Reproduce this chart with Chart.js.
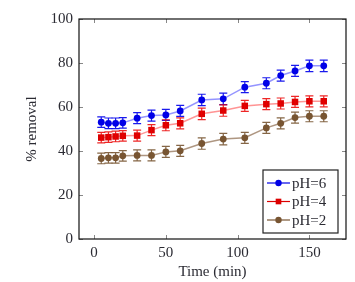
<!DOCTYPE html>
<html>
<head>
<meta charset="utf-8">
<script src="https://cdn.jsdelivr.net/npm/chart.js@4.4.1/dist/chart.umd.min.js"></script>
<style>
    html, body { margin: 0; padding: 0; background: #fff; }
    #wrap { width: 355px; height: 282px; }
</style>
</head>
<body>
<div id="wrap"><canvas id="removalChart"></canvas></div>
<script>
// Time points (min)
const times = [5, 10, 15, 20, 30, 40, 50, 60, 75, 90, 105, 120, 130, 140, 150, 160];

// % removal per pH
const ph6 = [53.1, 52.6, 52.6, 52.8, 54.9, 56.1, 56.4, 58.2, 63.2, 63.7, 69.0, 70.8, 74.3, 76.4, 78.7, 78.7];
const ph4 = [46.1, 46.3, 46.6, 46.9, 47.0, 49.5, 51.7, 52.6, 56.9, 58.4, 60.5, 61.3, 61.6, 62.3, 62.6, 62.6];
const ph2 = [36.6, 36.9, 36.9, 37.8, 38.0, 38.0, 39.6, 40.1, 43.4, 45.4, 46.0, 50.5, 52.6, 55.2, 55.8, 55.8];

// error bar half-widths
const ph6Err = [2.4, 2.4, 2.4, 2.4, 2.5, 2.5, 2.5, 2.5, 2.6, 2.6, 2.5, 2.5, 2.5, 2.5, 2.6, 2.6];
const ph4Err = [2.4, 2.4, 2.4, 2.4, 2.5, 2.5, 2.5, 2.5, 2.6, 2.6, 2.5, 2.5, 2.5, 2.5, 2.5, 2.5];
const ph2Err = [2.4, 2.4, 2.4, 2.4, 2.5, 2.5, 2.5, 2.5, 2.6, 2.6, 2.5, 2.5, 2.5, 2.5, 2.5, 2.5];

const xTicks = [0, 50, 100, 150];
const yTicks = [0, 20, 40, 60, 80, 100];

const FONT = "'Liberation Serif', 'DejaVu Serif', serif";
const TEXT = '#2b2b33';

function toPoints(ys) {
    return ys.map((y, i) => ({ x: times[i], y: y }));
}

// Draws vertical error bars with caps from each dataset's errors array
const errorBars = {
    id: 'errorBars',
    afterDatasetsDraw(chart) {
        const ctx = chart.ctx;
        const yScale = chart.scales.y;
        chart.data.datasets.forEach((ds, di) => {
            const meta = chart.getDatasetMeta(di);
            ctx.save();
            ctx.strokeStyle = ds.errColor;
            ctx.lineWidth = 1.2;
            meta.data.forEach((pt, i) => {
                const v = ds.data[i].y;
                const e = ds.errors[i];
                const top = yScale.getPixelForValue(v + e);
                const bot = yScale.getPixelForValue(v - e);
                ctx.beginPath();
                ctx.moveTo(pt.x, top);
                ctx.lineTo(pt.x, bot);
                ctx.moveTo(pt.x - 4, top);
                ctx.lineTo(pt.x + 4, top);
                ctx.moveTo(pt.x - 4, bot);
                ctx.lineTo(pt.x + 4, bot);
                ctx.stroke();
            });
            ctx.restore();
        });
    }
};

// Box around the plot with inward tick marks on all four sides
const frame = {
    id: 'frame',
    afterDraw(chart) {
        const ctx = chart.ctx;
        const a = chart.chartArea;
        const xs = chart.scales.x;
        const ys = chart.scales.y;
        ctx.save();
        ctx.strokeStyle = '#888';
        ctx.lineWidth = 1;
        ctx.beginPath();
        xTicks.forEach(v => {
            const px = Math.round(xs.getPixelForValue(v)) + 0.5;
            ctx.moveTo(px, a.bottom);
            ctx.lineTo(px, a.bottom - 4);
            ctx.moveTo(px, a.top);
            ctx.lineTo(px, a.top + 4);
        });
        yTicks.forEach(v => {
            const py = Math.round(ys.getPixelForValue(v)) + 0.5;
            ctx.moveTo(a.left, py);
            ctx.lineTo(a.left + 4, py);
            ctx.moveTo(a.right, py);
            ctx.lineTo(a.right - 4, py);
        });
        ctx.stroke();
        ctx.strokeStyle = '#111';
        ctx.lineWidth = 1.2;
        ctx.strokeRect(a.left, a.top, a.right - a.left, a.bottom - a.top);
        ctx.restore();
    }
};

// Boxed legend in the lower right corner of the plot
const boxLegend = {
    id: 'boxLegend',
    afterDraw(chart) {
        const ctx = chart.ctx;
        const a = chart.chartArea;
        const w = 75, h = 63;
        const x0 = a.right - 8 - w;
        const y0 = a.bottom - 6 - h;
        ctx.save();
        ctx.fillStyle = '#fff';
        ctx.fillRect(x0, y0, w, h);
        ctx.strokeStyle = '#222';
        ctx.lineWidth = 1.2;
        ctx.strokeRect(x0, y0, w, h);
        ctx.font = '15px ' + FONT;
        ctx.textBaseline = 'middle';
        chart.data.datasets.forEach((ds, i) => {
            const cy = y0 + 13 + i * 18.5;
            ctx.strokeStyle = ds.pointBackgroundColor;
            ctx.lineWidth = 1.2;
            ctx.beginPath();
            ctx.moveTo(x0 + 4, cy);
            ctx.lineTo(x0 + 27, cy);
            ctx.stroke();
            ctx.fillStyle = ds.pointBackgroundColor;
            Chart.helpers.drawPoint(ctx, {
                pointStyle: ds.pointStyle,
                radius: ds.pointStyle === 'rect' ? 4 : 3.2,
                rotation: 0,
                borderWidth: 0
            }, x0 + 15.5, cy);
            ctx.fillStyle = TEXT;
            ctx.fillText(ds.label, x0 + 29, cy + 1);
        });
        ctx.restore();
    }
};

const ctx = document.getElementById('removalChart').getContext('2d');
new Chart(ctx, {
    type: 'line',
    data: {
        datasets: [{
            label: 'pH=6',
            data: toPoints(ph6),
            errors: ph6Err,
            errColor: 'rgba(0, 0, 235, 0.9)',
            borderColor: 'rgba(60, 60, 255, 0.55)',
            borderWidth: 1.5,
            pointStyle: 'circle',
            pointRadius: 3.4,
            pointBorderWidth: 0,
            pointBackgroundColor: 'rgb(0, 0, 230)'
        }, {
            label: 'pH=4',
            data: toPoints(ph4),
            errors: ph4Err,
            errColor: 'rgba(235, 0, 0, 0.85)',
            borderColor: 'rgba(255, 60, 60, 0.55)',
            borderWidth: 1.5,
            pointStyle: 'rect',
            pointRadius: 4.6,
            pointBorderWidth: 0,
            pointBackgroundColor: 'rgb(220, 0, 0)'
        }, {
            label: 'pH=2',
            data: toPoints(ph2),
            errors: ph2Err,
            errColor: 'rgba(120, 85, 50, 0.9)',
            borderColor: 'rgba(140, 105, 75, 0.7)',
            borderWidth: 1.5,
            pointStyle: 'circle',
            pointRadius: 3.4,
            pointBorderWidth: 0,
            pointBackgroundColor: 'rgb(120, 85, 50)'
        }]
    },
    options: {
        responsive: true,
        maintainAspectRatio: false,
        animation: false,
        layout: {
            padding: { top: 19, right: 9, left: 0, bottom: 0 }
        },
        plugins: {
            legend: { display: false },
            tooltip: { enabled: false }
        },
        scales: {
            x: {
                type: 'linear',
                min: -10.5,
                max: 175.5,
                afterBuildTicks: scale => { scale.ticks = xTicks.map(v => ({ value: v })); },
                afterFit: scale => { scale.height = 43; },
                grid: { display: false, drawTicks: false },
                border: { display: false },
                ticks: {
                    padding: 5,
                    maxRotation: 0,
                    color: TEXT,
                    font: { family: FONT, size: 15 }
                },
                title: {
                    display: true,
                    text: 'Time (min)',
                    color: TEXT,
                    font: { family: FONT, size: 15 },
                    padding: { top: 0, bottom: 1 }
                }
            },
            y: {
                min: 0,
                max: 100,
                afterBuildTicks: scale => { scale.ticks = yTicks.map(v => ({ value: v })); },
                afterFit: scale => { scale.width = 79; },
                grid: { display: false, drawTicks: false },
                border: { display: false },
                ticks: {
                    padding: 6,
                    color: TEXT,
                    font: { family: FONT, size: 15 }
                },
                title: {
                    display: true,
                    text: '% removal',
                    color: TEXT,
                    font: { family: FONT, size: 15 },
                    padding: { top: 23, bottom: 0 }
                }
            }
        }
    },
    plugins: [errorBars, frame, boxLegend]
});
</script>
</body>
</html>
